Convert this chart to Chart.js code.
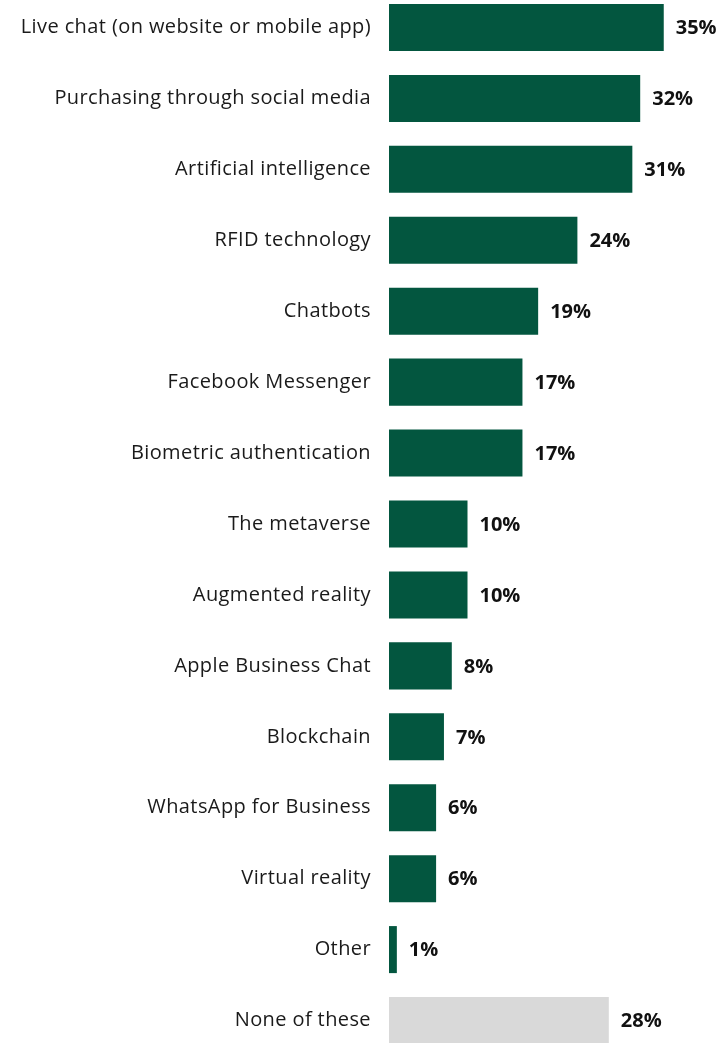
<!DOCTYPE html>
<html>
<head>
<meta charset="utf-8">
<script src="https://cdn.jsdelivr.net/npm/chart.js@4/dist/chart.umd.min.js"></script>
<style>
  html, body { margin: 0; padding: 0; background: #fff; overflow: hidden; }
  #myChart { position: absolute; left: 0; top: -8px; }
</style>
</head>
<body>
<canvas id="myChart" width="722" height="1064"></canvas>
<script>
var labels = [
  "Live chat (on website or mobile app)",
  "Purchasing through social media",
  "Artificial intelligence",
  "RFID technology",
  "Chatbots",
  "Facebook Messenger",
  "Biometric authentication",
  "The metaverse",
  "Augmented reality",
  "Apple Business Chat",
  "Blockchain",
  "WhatsApp for Business",
  "Virtual reality",
  "Other",
  "None of these"
];
var values = [35, 32, 31, 24, 19, 17, 17, 10, 10, 8, 7, 6, 6, 1, 28];
var green = "#03563f";
var grey = "#d9d9d9";
var barColors = values.map(function (v, i) {
  return i == values.length - 1 ? grey : green;
});

// slightly looser tracking for the category names
var spacing = {
  id: "spacing",
  beforeDraw: function (chart) {
    chart.ctx.letterSpacing = "0.4px";
  }
};

// writes "NN%" just past the end of each bar
var valueLabels = {
  id: "valueLabels",
  afterDatasetsDraw: function (chart) {
    var ctx = chart.ctx;
    var meta = chart.getDatasetMeta(0);
    ctx.save();
    ctx.letterSpacing = "0px";
    ctx.font = "bold 20px 'Open Sans'";
    ctx.fillStyle = "#111";
    ctx.textBaseline = "middle";
    ctx.textAlign = "left";
    meta.data.forEach(function (bar, i) {
      ctx.fillText(values[i] + "%", bar.x + 12, bar.y + 1);
    });
    ctx.restore();
  }
};

new Chart("myChart", {
  type: "bar",
  data: {
    labels: labels,
    datasets: [{
      data: values,
      backgroundColor: barColors,
      categoryPercentage: 0.663,
      barPercentage: 1
    }]
  },
  options: {
    indexAxis: "y",
    responsive: false,
    animation: false,
    layout: { padding: { left: 0, right: 19, top: 0, bottom: 0 } },
    plugins: {
      legend: { display: false },
      tooltip: { enabled: false }
    },
    scales: {
      x: {
        display: false,
        min: 0,
        max: 40
      },
      y: {
        grid: { display: false, drawTicks: false },
        border: { display: false },
        ticks: {
          color: "#1a1a1a",
          font: { family: "'Open Sans'", size: 20 },
          padding: 18
        },
        afterFit: function (scale) {
          scale.width = 389;
          // no extra room above/below for the tick labels
          scale.paddingTop = 0;
          scale.paddingBottom = 0;
        }
      }
    }
  },
  plugins: [spacing, valueLabels]
});
</script>
</body>
</html>
